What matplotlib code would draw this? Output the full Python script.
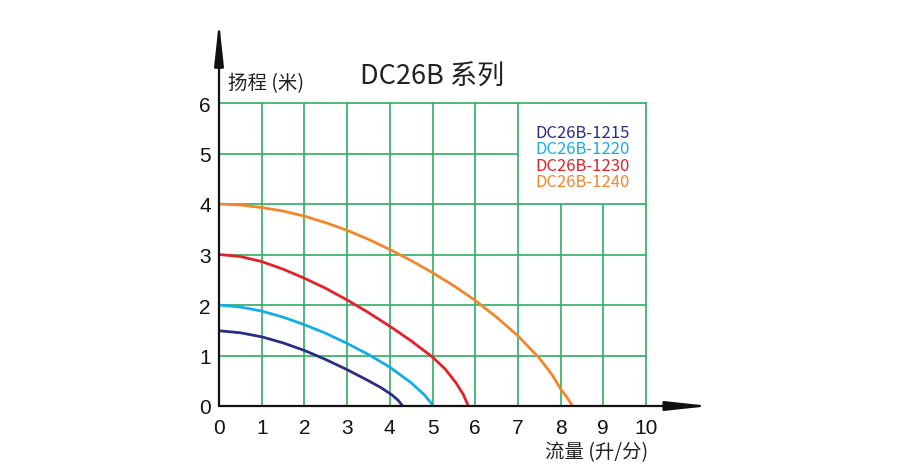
import matplotlib.pyplot as plt

# 读取的曲线数据 (流量 升/分, 扬程 米)
x_1215 = [0, 0.5, 1, 1.5, 2, 2.5, 3, 3.5, 3.8, 4.05, 4.2, 4.3]
y_1215 = [1.49, 1.45, 1.37, 1.25, 1.10, 0.92, 0.72, 0.50, 0.36, 0.22, 0.11, 0.0]

x_1220 = [0, 0.5, 1, 1.5, 2, 2.5, 3, 3.5, 4, 4.5, 4.8, 4.95, 5.01]
y_1220 = [2.0, 1.96, 1.88, 1.76, 1.61, 1.44, 1.24, 1.02, 0.77, 0.46, 0.23, 0.08, 0.0]

x_1230 = [0, 0.5, 1, 1.5, 2, 2.5, 3, 3.5, 4, 4.5, 5, 5.3, 5.55, 5.72, 5.84]
y_1230 = [3.0, 2.96, 2.86, 2.71, 2.53, 2.33, 2.10, 1.85, 1.58, 1.29, 0.97, 0.73, 0.46, 0.23, 0.0]

x_1240 = [0, 0.5, 1, 1.5, 2, 2.5, 3, 3.5, 4, 4.5, 5, 5.5, 6, 6.5, 7, 7.5, 7.8, 8, 8.15, 8.28]
y_1240 = [4.0, 3.98, 3.93, 3.86, 3.76, 3.63, 3.48, 3.30, 3.10, 2.88, 2.64, 2.38, 2.09, 1.76, 1.39, 0.95, 0.62, 0.34, 0.17, 0.0]

models = ['DC26B-1215', 'DC26B-1220', 'DC26B-1230', 'DC26B-1240']
colors = ['#2b2c86', '#14aee6', '#e6202a', '#f3862a']
xs = [x_1215, x_1220, x_1230, x_1240]
ys = [y_1215, y_1220, y_1230, y_1240]

x_ticks = list(range(0, 11))
y_ticks = list(range(0, 7))

cjk = ['Noto Sans CJK SC', 'DejaVu Sans']
green = '#2eaf62'

fig = plt.figure(figsize=(9, 4.77), dpi=100)
ax = fig.add_axes([219 / 900, 70 / 477, 427 / 900, 303 / 477])
ax.set_xlim(0, 10)
ax.set_ylim(0, 6)

# 网格 (图例区域空白)
for xv in x_ticks[1:-1]:
    top = 4 if xv > 7 else 6
    ax.vlines(xv, 0, top, color=green, lw=1.2, zorder=1)
for yv in y_ticks[1:-1]:
    right = 7 if yv > 4 else 10
    ax.hlines(yv, 0, right, color=green, lw=1.2, zorder=1)

for sp in ['top', 'right']:
    ax.spines[sp].set_color(green)
    ax.spines[sp].set_linewidth(1.2)
for sp in ['left', 'bottom']:
    ax.spines[sp].set_visible(False)

for x, y, c in zip(xs, ys, colors):
    ax.plot(x, y, color=c, lw=2.0, zorder=3, solid_capstyle='butt',
            solid_joinstyle='round')

# 坐标轴箭头
arrow = dict(arrowstyle='-|>,head_length=2.6,head_width=0.28',
             color='#111111', lw=1.6, shrinkA=0, shrinkB=0)
ax.annotate('', xy=(1.15, 0), xytext=(0, 0), xycoords='axes fraction',
            arrowprops=arrow, annotation_clip=False)
ax.annotate('', xy=(0, 1.27), xytext=(0, 0), xycoords='axes fraction',
            arrowprops=arrow, annotation_clip=False)

ax.set_xticks(x_ticks)
ax.set_yticks(y_ticks)
ax.tick_params(length=0, labelsize=15, pad=9, colors='#111111')
ax.tick_params(axis='y', pad=6)
for lab in ax.get_xticklabels() + ax.get_yticklabels():
    lab.set_fontfamily('Liberation Sans')

# 图例文字
for i, (m, c) in enumerate(zip(models, colors)):
    ax.text(7.4, 5.42 - i * 0.325, m, color=c, fontsize=12,
            family=cjk, va='center', ha='left')

fig.text(360 / 900, 1 - 77 / 477, 'DC26B 系列', fontsize=19.5, family=cjk,
         va='center', ha='left', color='#222222')
fig.text(228 / 900, 1 - 84 / 477, '扬程 (米)', fontsize=14, family=cjk,
         va='center', ha='left', color='#222222')
fig.text(648 / 900, 1 - 453 / 477, '流量 (升/分)', fontsize=14, family=cjk,
         va='center', ha='right', color='#222222')

fig.savefig('out.png', dpi=100)
